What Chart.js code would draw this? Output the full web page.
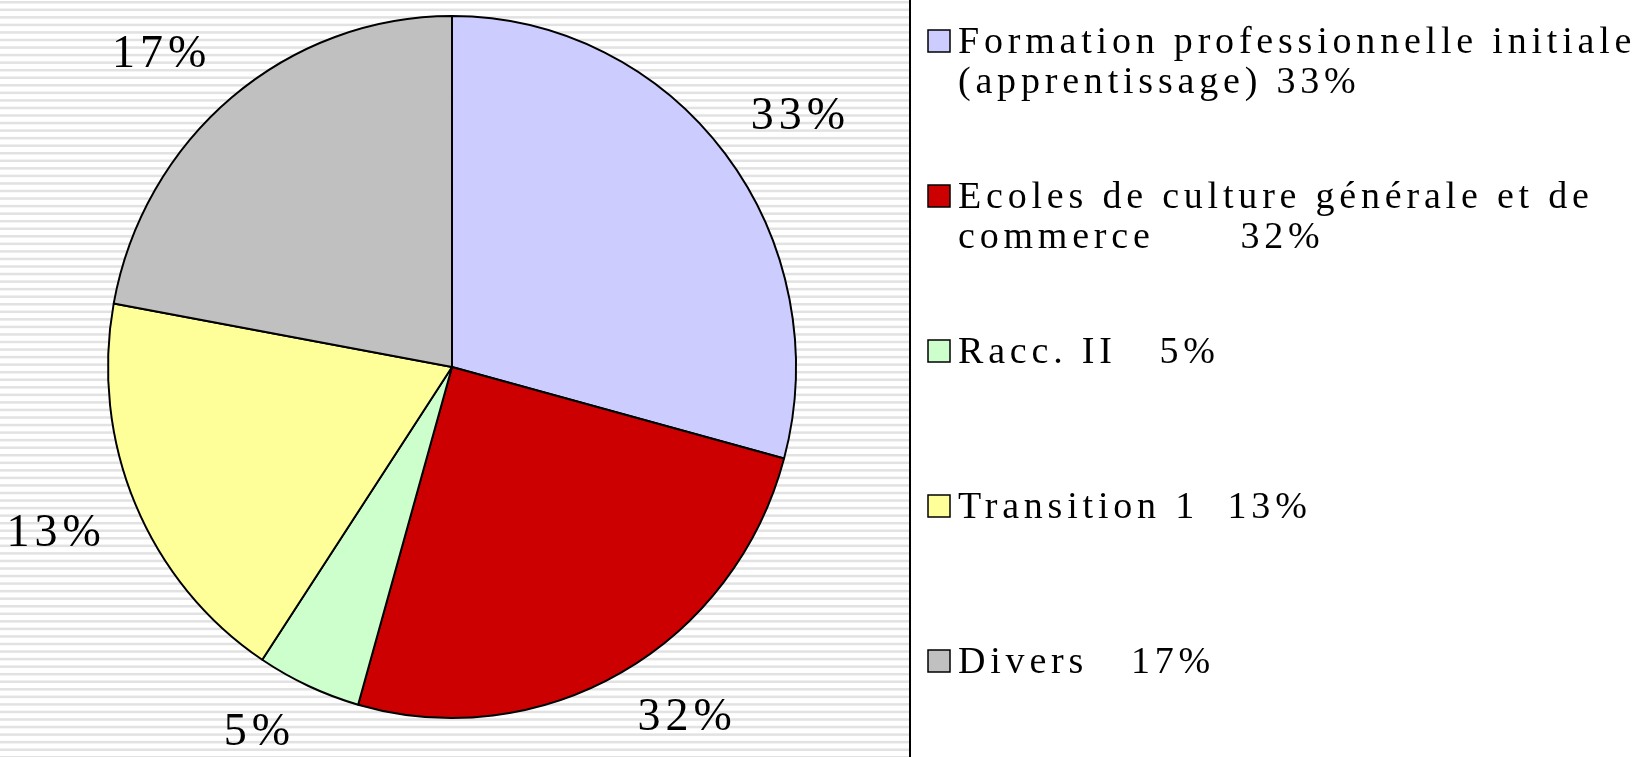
<!DOCTYPE html>
<html>
<head>
<meta charset="utf-8">
<script src="https://cdn.jsdelivr.net/npm/chart.js@4"></script>
<style>
  html, body { margin: 0; padding: 0; background: #fff; overflow: hidden; }
  #pie-chart { display: block; }
</style>
</head>
<body>
<canvas id="pie-chart" width="1641" height="757"></canvas>
<script>
// Chart data
const categories = [
  "Formation professionnelle initiale (apprentissage)",
  "Ecoles de culture générale et de commerce",
  "Racc. II",
  "Transition 1",
  "Divers",
];
const sliceValues = [29.2, 25.2, 4.9, 18.6, 22.1];
const percentLabels = ["33%", "32%", "5%", "13%", "17%"];
const legendLines = [
  ["Formation professionnelle initiale", "(apprentissage) 33%"],
  ["Ecoles de culture générale et de", "commerce      32%"],
  ["Racc. II   5%"],
  ["Transition 1  13%"],
  ["Divers   17%"],
];
const colors = ["#CCCCFF", "#CC0000", "#CCFFCC", "#FFFF99", "#C0C0C0"];

const pieChart = document.querySelector("#pie-chart");
const dividerX = 910;
const pieScaleX = 0.98; // the original pie is a little narrower than tall

// Striped plot background and the divider line
const backgroundPlugin = {
  id: "stripedBackground",
  beforeDraw: (chart) => {
    const ctx = chart.ctx;
    ctx.save();
    ctx.fillStyle = "#ffffff";
    ctx.fillRect(0, 0, chart.width, chart.height);
    ctx.fillStyle = "#e2e2e2";
    for (let y = 1; y < chart.height; y += 7.55) {
      ctx.fillRect(0, y, dividerX, 2.5);
    }
    ctx.strokeStyle = "#000000";
    ctx.lineWidth = 2;
    ctx.beginPath();
    ctx.moveTo(dividerX, 0);
    ctx.lineTo(dividerX, chart.height);
    ctx.stroke();
    ctx.restore();
  },
};

// Squeeze the pie horizontally around its centre
const squeezePlugin = {
  id: "squeezePie",
  beforeDatasetsDraw: (chart) => {
    const ctx = chart.ctx;
    const arc = chart.getDatasetMeta(0).data[0];
    ctx.save();
    ctx.translate(arc.x, 0);
    ctx.scale(pieScaleX, 1);
    ctx.translate(-arc.x, 0);
  },
  afterDatasetsDraw: (chart) => {
    chart.ctx.restore();
  },
};

// Percentage labels outside each slice
const sliceLabelPlugin = {
  id: "sliceLabels",
  afterDatasetsDraw: (chart) => {
    const ctx = chart.ctx;
    const meta = chart.getDatasetMeta(0);
    ctx.save();
    ctx.font = "46px 'Liberation Serif', 'Times New Roman', serif";
    ctx.letterSpacing = "5px";
    ctx.fillStyle = "#000000";
    ctx.textAlign = "center";
    ctx.textBaseline = "middle";
    meta.data.forEach((arc, i) => {
      const { x, y, startAngle, endAngle, outerRadius } = arc.getProps(
        ["x", "y", "startAngle", "endAngle", "outerRadius"],
        true
      );
      const mid = (startAngle + endAngle) / 2;
      const dx = Math.cos(mid);
      const dy = Math.sin(mid);
      const halfW = ctx.measureText(percentLabels[i]).width / 2;
      const halfH = 17;
      const dist = outerRadius + 33;
      const lx = x + dx * dist * pieScaleX + Math.sign(dx) * halfW;
      const ly = y + dy * dist + Math.sign(dy) * halfH;
      ctx.fillText(percentLabels[i], lx, ly);
    });
    ctx.restore();
  },
};

// Legend on the right
const legendPlugin = {
  id: "sideLegend",
  afterDraw: (chart) => {
    const ctx = chart.ctx;
    const boxX = 928;
    const textX = 958;
    const firstBaseline = 53;
    const itemPitch = 155;
    const lineHeight = 40;
    const boxSize = 22;
    ctx.save();
    ctx.font = "38px 'Liberation Serif', 'Times New Roman', serif";
    ctx.letterSpacing = "4.8px";
    ctx.textBaseline = "alphabetic";
    ctx.textAlign = "left";
    legendLines.forEach((lines, i) => {
      const baseline = firstBaseline + i * itemPitch;
      ctx.fillStyle = colors[i];
      ctx.fillRect(boxX, baseline - 23, boxSize, boxSize);
      ctx.strokeStyle = "#000000";
      ctx.lineWidth = 1.5;
      ctx.strokeRect(boxX, baseline - 23, boxSize, boxSize);
      ctx.fillStyle = "#000000";
      lines.forEach((line, j) => {
        ctx.fillText(line, textX, baseline + j * lineHeight);
      });
    });
    ctx.restore();
  },
};

// Renders the pie chart
const renderPieChart = () => {
  new Chart(pieChart, {
    type: "pie",
    data: {
      labels: categories,
      datasets: [
        {
          data: sliceValues,
          backgroundColor: colors,
          borderColor: "#000000",
          borderWidth: 2,
          hoverOffset: 0,
        },
      ],
    },
    options: {
      responsive: false,
      animation: false,
      radius: 351,
      layout: {
        padding: { left: 101, top: 16, right: 838, bottom: 39 },
      },
      plugins: {
        legend: { display: false },
        tooltip: { enabled: false },
      },
    },
    plugins: [backgroundPlugin, squeezePlugin, sliceLabelPlugin, legendPlugin],
  });
};

renderPieChart();
</script>
</body>
</html>
